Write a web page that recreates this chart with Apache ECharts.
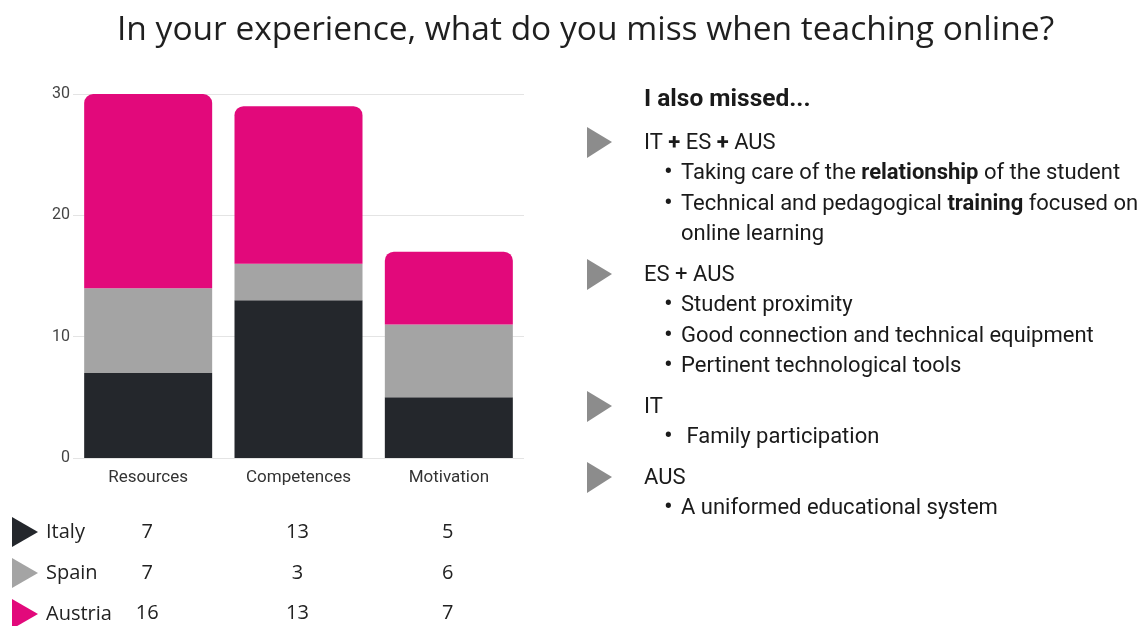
<!DOCTYPE html>
<html>
<head>
    <meta charset="utf-8">
    <title>Teaching online</title>
    <script src="https://cdn.jsdelivr.net/npm/echarts@6/dist/echarts.min.js"></script>
    <style>
        html, body { margin: 0; padding: 0; background: #fff; }
        #main { width: 1143px; height: 626px; }
    </style>
</head>
<body>
    <div id="main"></div>
    <script type="text/javascript">
        // chart data
        var categories = ['Resources', 'Competences', 'Motivation'];
        var countries = ['Italy', 'Spain', 'Austria'];
        var italy = [7, 13, 5];
        var spain = [7, 3, 6];
        var austria = [16, 13, 6];        // bar heights as drawn
        var austriaTable = [16, 13, 7];   // value printed in the table
        var yMax = 30;
        var yStep = 10;

        // notes on the right
        var notes = [
            { head: 'IT {b|+} ES {b|+} AUS', items: ['Taking care of the {b|relationship} of the student', 'Technical and pedagogical {b|training} focused on\nonline learning'] },
            { head: 'ES + AUS', items: ['Student proximity', 'Good connection and technical equipment', 'Pertinent technological tools'] },
            { head: 'IT', items: [' Family participation'] },
            { head: 'AUS', items: ['A uniformed educational system'] }
        ];

        var colors = ['#24272c', '#a4a4a4', '#e2097b'];
        var tri = 'path://M0,0 L26,15 L0,30 Z';

        var myChart = echarts.init(document.getElementById('main'));
        var option = {
            animation: false,
            title: {
                text: 'In your experience, what do you miss when teaching online?',
                left: 112,
                top: 8,
                textStyle: { fontSize: 33.5, fontWeight: 'normal', fontFamily: 'Open Sans', color: '#1f1f1f' }
            },
            legend: {
                data: countries,
                orient: 'vertical',
                left: 12,
                top: 517,
                height: 140,
                padding: 0,
                icon: tri,
                itemWidth: 26,
                itemHeight: 30,
                itemGap: 11,
                selectedMode: false,
                textStyle: { fontSize: 20, fontFamily: 'Open Sans', color: '#222', padding: [0, 0, 0, 3] }
            },
            grid: { left: 73, right: 619, top: 94, bottom: 168 },
            xAxis: {
                type: 'category',
                data: categories,
                axisLine: { show: false },
                axisTick: { show: false },
                axisLabel: { margin: 11, fontSize: 17, fontFamily: 'Roboto', color: '#333' }
            },
            yAxis: {
                type: 'value',
                min: 0,
                max: yMax,
                interval: yStep,
                axisLabel: { margin: 3, fontSize: 16, fontFamily: 'Roboto', color: '#444' },
                splitLine: { lineStyle: { color: '#e4e4e4' } }
            },
            series: [
                { name: 'Italy', type: 'bar', stack: 'all', barWidth: 128, data: italy, itemStyle: { color: colors[0] } },
                { name: 'Spain', type: 'bar', stack: 'all', barWidth: 128, data: spain, itemStyle: { color: colors[1] } },
                { name: 'Austria', type: 'bar', stack: 'all', barWidth: 128, data: austria, itemStyle: { color: colors[2], borderRadius: [9, 9, 0, 0] } }
            ]
        };
        myChart.setOption(option);

        var g = [];
        // table of values under the chart
        var rows = [italy, spain, austriaTable];
        var rowY = [532, 573, 613];
        rows.forEach(function (vals, r) {
            vals.forEach(function (v, c) {
                var x = myChart.convertToPixel({ xAxisIndex: 0 }, categories[c]);
                g.push({
                    type: 'text', x: x - 1, y: rowY[r],
                    style: { text: String(v), fontSize: 20, fontFamily: 'Open Sans', fill: '#222', textAlign: 'center', textVerticalAlign: 'middle' }
                });
            });
        });

        // right hand notes
        var fs = 22;
        var rich = { b: { fontWeight: 'bold', fontSize: fs, fontFamily: 'Roboto', fill: '#1a1a1a' } };
        g.push({
            type: 'text', x: 644, y: 100,
            style: { text: 'I also missed...', fontSize: 24.5, fontWeight: 'bold', fontFamily: 'Roboto', fill: '#1a1a1a', textVerticalAlign: 'middle' }
        });
        var y = 143;
        notes.forEach(function (n) {
            g.push({ type: 'polygon', shape: { points: [[587, y - 16], [612, y - 1], [587, y + 15]] }, style: { fill: '#8c8c8c' } });
            g.push({
                type: 'text', x: 644, y: y,
                style: { text: n.head, rich: rich, fontSize: fs, fontFamily: 'Roboto', fill: '#1a1a1a', textVerticalAlign: 'middle' }
            });
            y += 30.5;
            n.items.forEach(function (it) {
                g.push({
                    type: 'text', x: 664, y: y,
                    style: { text: '•', fontSize: 26, fontFamily: 'Roboto', fill: '#1a1a1a', textVerticalAlign: 'middle' }
                });
                it.split('\n').forEach(function (line) {
                    g.push({
                        type: 'text', x: 681, y: y,
                        style: { text: line, rich: rich, fontSize: fs, fontFamily: 'Roboto', fill: '#1a1a1a', textVerticalAlign: 'middle' }
                    });
                    y += 30.5;
                });
            });
            y += 10;
        });
        myChart.setOption({ graphic: g });
    </script>
</body>
</html>
